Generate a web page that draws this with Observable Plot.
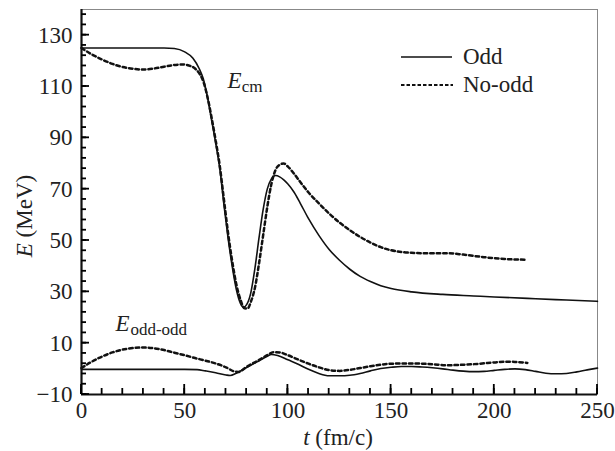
<!DOCTYPE html>
<html><head><meta charset="utf-8">
<script src="https://cdn.jsdelivr.net/npm/d3@7"></script>
<script src="https://cdn.jsdelivr.net/npm/@observablehq/plot@0.6"></script>
<style>body{margin:0;background:#fff}#chart{width:615px;height:451px}</style>
</head><body><div id="chart"></div>
<script>
// E_cm, Odd (solid)
const tOddCm = [0,10,20,30,40,45,50,54,57,59,61,63,65,67,69,71,73,75,77,78.5,80,82,84,86,88,90,92,94,96,98,100,103,106,110,115,120,125,130,135,140,145,150,160,175,190,200,220,235,250];
const eOddCm = [125,125,125,125,125,124.8,123.5,121,117,113,106,97,88,78,64,51,40,31,25.5,24,25,29.5,39,51,62,70,74,75.3,74.8,73.6,72,68.8,64.5,58.5,52,46.5,42.3,38.8,36,34,32.4,31.3,30,29,28.4,28,27.3,26.8,26.3];
// E_cm, No-odd (dashed)
const tNoCm = [0,5,10,15,20,25,30,35,40,45,49,52,55,57,59,61,63,65,67,69,71,73,75,77,79,80.5,82,84,86,88,90,92,94,96,98,100,103,106,110,115,120,125,130,135,140,145,150,155,160,170,178,185,195,205,216];
const eNoCm = [125,122.5,120.5,118.8,117.6,116.9,116.6,117,117.7,118.4,118.6,118.2,117,115.2,112,106,98,89,79,66,53,42,33,27,23.6,23.5,26,31.5,41,52,63,72,77.5,79.5,80,78.8,76,72.8,68.7,64.5,60.5,57,54,51.4,49.2,47.4,46.2,45.5,45.2,45,45,44.5,43.5,42.8,42.5];
// E_odd-odd, Odd (solid)
const tOddOO = [0,10,20,30,40,50,56,60,65,70,72,75,80,85,90,92,95,100,105,110,115,118,120,125,130,135,140,145,150,155,160,165,170,175,180,185,190,195,200,205,210,215,220,225,230,235,240,245,250];
const eOddOO = [-0.2,-0.2,-0.2,-0.2,-0.2,-0.2,-0.3,-0.8,-1.5,-2.4,-2.6,-1.7,0.5,2.7,4.9,5.6,5.2,3.5,1.8,-0.2,-1.8,-2.5,-2.7,-2.7,-2.5,-1.8,-0.8,0.1,0.6,0.9,0.9,0.7,0.4,0,-0.5,-0.9,-1.1,-1,-0.6,-0.2,0,-0.3,-1,-1.7,-1.9,-1.8,-1.2,-0.4,0.3];
// E_odd-odd, No-odd (dashed)
const tNoOO = [0,5,10,15,20,25,30,35,40,45,50,55,60,65,70,74,76,80,85,90,93,96,100,105,110,115,120,125,130,135,140,145,150,160,170,177,185,193,200,205,210,216];
const eNoOO = [0.3,2.8,4.8,6.4,7.5,8.1,8.3,8,7.3,6.3,5.3,4.2,3.2,2.1,0.6,-1,-1.2,0.8,3,5.3,6.5,6.4,5.3,3.6,2,0.6,-0.5,-0.8,-0.4,0.3,1,1.6,2,2.1,1.8,1.4,1.6,2,2.5,2.8,2.7,2.3];

const seriesNames = ["Odd","No-odd"];
const xTicks = [0,50,100,150,200,250];
const xTickLabels = ["0","50","100","150","200","250"];
const yTicks = [-10,10,30,50,70,90,110,130];
const yTickLabels = ["\u221210","10","30","50","70","90","110","130"];
const xMinor = d3.range(0,251,10);
const yMinor = d3.range(-10,141,4);

const mk = (ts, es, s) => ts.map((t,i)=>({t, e: es[i], s}));
const oddCm = mk(tOddCm, eOddCm, seriesNames[0]);
const noCm = mk(tNoCm, eNoCm, seriesNames[1]);
const oddOO = mk(tOddOO, eOddOO, seriesNames[0]);
const noOO = mk(tNoOO, eNoOO, seriesNames[1]);

const xLab = new Map(xTicks.map((d,i)=>[d,xTickLabels[i]]));
const yLab = new Map(yTicks.map((d,i)=>[d,yTickLabels[i]]));
const FONT = "'Liberation Serif','Times New Roman',serif";
const FS = 23;
const W = 615, H = 451, ML = 81, MR = 18, MT = 9, MB = 57;
const solid = {stroke:"#111", strokeWidth:1.6, curve:"monotone-x"};
const dashed = {stroke:"#111", strokeWidth:2.5, strokeDasharray:"3.5,3", curve:"monotone-x"};

const plot = Plot.plot({
  width:W, height:H,
  marginLeft:ML, marginRight:MR, marginTop:MT, marginBottom:MB,
  style:{fontFamily:FONT, fontSize:FS+"px", color:"#222", background:"#fff"},
  x:{domain:[0,250]},
  y:{domain:[-10,140]},
  marks:[
    Plot.frame({stroke:"#888", strokeWidth:1}),
    Plot.axisX(xTicks, {tickSize:0, tickPadding:7, tickFormat:d=>xLab.get(d), label:null, fontSize:FS}),
    Plot.axisY(yTicks, {tickSize:0, tickPadding:9, tickFormat:d=>yLab.get(d), label:null, fontSize:FS}),
    Plot.ruleX([0], {stroke:"#111", strokeWidth:2.2}),
    Plot.ruleY([-10], {stroke:"#111", strokeWidth:2.2}),
    Plot.line(oddCm, {x:"t", y:"e", ...solid}),
    Plot.line(noCm, {x:"t", y:"e", ...dashed}),
    Plot.line(oddOO, {x:"t", y:"e", ...solid}),
    Plot.line(noOO, {x:"t", y:"e", ...dashed}),
    Plot.text(["E"], {x:70.7, y:109.3, text:d=>d, textAnchor:"start", lineAnchor:"bottom", fontStyle:"italic", fontSize:FS, fill:"#222"}),
    Plot.text(["cm"], {x:77.6, y:107.8, text:d=>d, textAnchor:"start", lineAnchor:"bottom", fontSize:17, fill:"#222"}),
    Plot.text(["E"], {x:16.5, y:14.6, text:d=>d, textAnchor:"start", lineAnchor:"bottom", fontStyle:"italic", fontSize:FS, fill:"#222"}),
    Plot.text(["odd-odd"], {x:23.7, y:13.0, text:d=>d, textAnchor:"start", lineAnchor:"bottom", fontSize:17, fill:"#222"})
  ]
});
document.getElementById("chart").appendChild(plot);

const svg = d3.select(plot);
const sx = plot.scale("x"), sy = plot.scale("y");
const x0 = sx.apply(0), y0 = sy.apply(-10);
// inward ticks, positioned through Plot's own scales
const tg = svg.append("g").attr("stroke","#000");
tg.selectAll(".xm").data(xMinor).join("line").attr("x1",d=>sx.apply(d)).attr("x2",d=>sx.apply(d))
  .attr("y1",y0).attr("y2",y0-6).attr("stroke-width",1.8);
tg.selectAll(".xM").data(xTicks).join("line").attr("x1",d=>sx.apply(d)).attr("x2",d=>sx.apply(d))
  .attr("y1",y0).attr("y2",y0-10).attr("stroke-width",1.8);
tg.selectAll(".ym").data(yMinor).join("line").attr("y1",d=>sy.apply(d)).attr("y2",d=>sy.apply(d))
  .attr("x1",x0).attr("x2",x0+5).attr("stroke-width",1.8);
tg.selectAll(".yM").data(yTicks).join("line").attr("y1",d=>sy.apply(d)).attr("y2",d=>sy.apply(d))
  .attr("x1",x0).attr("x2",x0+8).attr("stroke-width",1.8);
// axis labels
const xl = svg.append("text").attr("x",338).attr("y",445).attr("text-anchor","middle")
  .attr("font-family",FONT).attr("font-size",FS).attr("fill","#222");
xl.append("tspan").attr("font-style","italic").text("t");
xl.append("tspan").text(" (fm/c)");
const yl = svg.append("text").attr("transform","translate(32,216) rotate(-90)").attr("text-anchor","middle")
  .attr("font-family",FONT).attr("font-size",FS).attr("fill","#222");
yl.append("tspan").attr("font-style","italic").text("E");
yl.append("tspan").text(" (MeV)");
// legend
const lg = svg.append("g");
lg.append("line").attr("x1",401).attr("x2",452).attr("y1",57).attr("y2",57).attr("stroke","#111").attr("stroke-width",1.6);
lg.append("line").attr("x1",401).attr("x2",453).attr("y1",85).attr("y2",85).attr("stroke","#111").attr("stroke-width",2.2).attr("stroke-dasharray","3.5,2");
lg.append("text").attr("x",463).attr("y",64).attr("text-anchor","start").attr("font-family",FONT).attr("font-size",FS).attr("fill","#222").text(seriesNames[0]);
lg.append("text").attr("x",463).attr("y",92).attr("text-anchor","start").attr("font-family",FONT).attr("font-size",FS).attr("fill","#222").text(seriesNames[1]);
</script></body></html>
